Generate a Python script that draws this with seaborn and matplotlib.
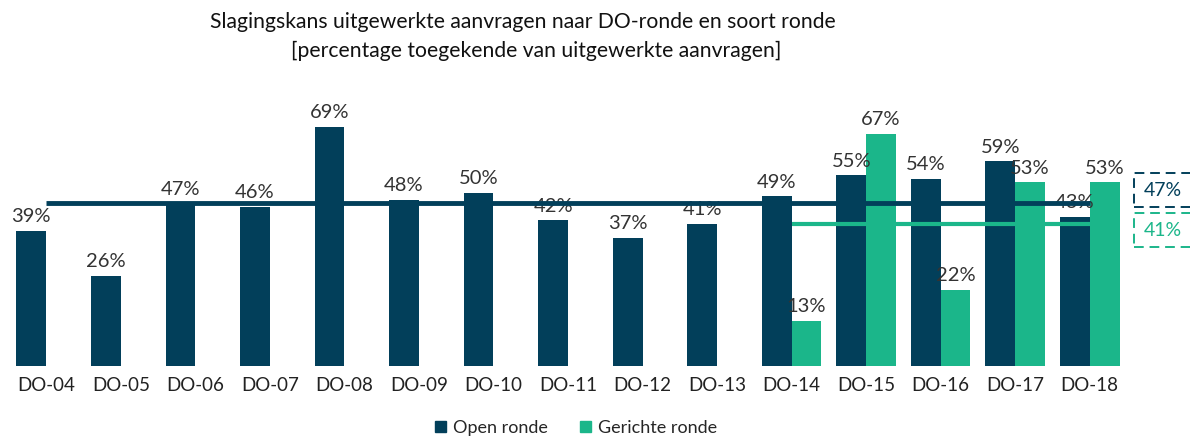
import matplotlib.pyplot as plt
import numpy as np
import pandas as pd
import seaborn as sns

# Data
rondes = ['DO-04', 'DO-05', 'DO-06', 'DO-07', 'DO-08', 'DO-09', 'DO-10', 'DO-11',
          'DO-12', 'DO-13', 'DO-14', 'DO-15', 'DO-16', 'DO-17', 'DO-18']
open_ronde = [39, 26, 47, 46, 69, 48, 50, 42, 37, 41, 49, 55, 54, 59, 43]
gerichte_ronde = [np.nan] * 10 + [13, 67, 22, 53, 53]
avg_open = 47
avg_gericht = 41
series = ['Open ronde', 'Gerichte ronde']

navy = '#023F5A'
green = '#1BB68A'

df = pd.DataFrame({
    'ronde': rondes * 2,
    'soort': [series[0]] * len(rondes) + [series[1]] * len(rondes),
    'pct': open_ronde + gerichte_ronde,
})

sns.set_style('white')
plt.rcParams['font.family'] = ['Lato', 'DejaVu Sans']

W, H = 1190, 436
fig = plt.figure(figsize=(W / 100, H / 100), dpi=100)
ax = fig.add_axes([9 / W, 70 / H, 1118 / W, 260 / H])

sns.barplot(data=df, x='ronde', y='pct', hue='soort', hue_order=series,
            palette=[navy, green], order=rondes, width=0.8, saturation=1,
            ax=ax, legend=False, linewidth=0)

for cont in ax.containers:
    ax.bar_label(cont, fmt='%.0f%%', padding=4, fontsize=14.5, color='#333333')

# average lines
first_gericht = next(i for i, v in enumerate(gerichte_ronde) if not np.isnan(v))
ax.hlines(avg_open, 0, len(rondes) - 1, color=navy, lw=3.5, zorder=3)
ax.hlines(avg_gericht, first_gericht, len(rondes) - 1, color=green, lw=3, zorder=3)

ax.set_ylim(0, 75)
ax.set_xlim(-0.5, len(rondes) - 0.5)
ax.set_xlabel('')
ax.set_ylabel('')
ax.set_yticks([])
ax.tick_params(axis='x', length=0, labelsize=13.5, colors='#222222', pad=8)
sns.despine(ax=ax, left=True, bottom=True)

# dashed boxes with averages
for (y0, y1), val, col in [((173, 207), avg_open, navy), ((213, 247), avg_gericht, green)]:
    rect = plt.Rectangle((1134 / W, 1 - y1 / H), 60 / W, (y1 - y0) / H,
                         transform=fig.transFigure, fill=False, ec=col, lw=1.4,
                         ls=(0, (5, 3)), clip_on=False)
    fig.add_artist(rect)
    fig.text(1163 / W, 1 - (y0 + y1) / 2 / H, f'{val}%', ha='center', va='center',
             fontsize=14, color=col)

# title
fig.text(523 / W, 1 - 22 / H,
         'Slagingskans uitgewerkte aanvragen naar DO-ronde en soort ronde',
         ha='center', va='center', fontsize=15.2, color='#111111')
fig.text(536 / W, 1 - 51 / H,
         '[percentage toegekende van uitgewerkte aanvragen]',
         ha='center', va='center', fontsize=15.2, color='#111111')

# legend
handles = [plt.Rectangle((0, 0), 1, 1, color=c) for c in [navy, green]]
fig.legend(handles, series, loc='center', bbox_to_anchor=(576 / W, 1 - 428 / H),
           ncol=2, frameon=False, fontsize=13, handlelength=0.6, handleheight=0.6,
           handletextpad=0.4, columnspacing=1.8)

fig.savefig('out.png', dpi=100)
